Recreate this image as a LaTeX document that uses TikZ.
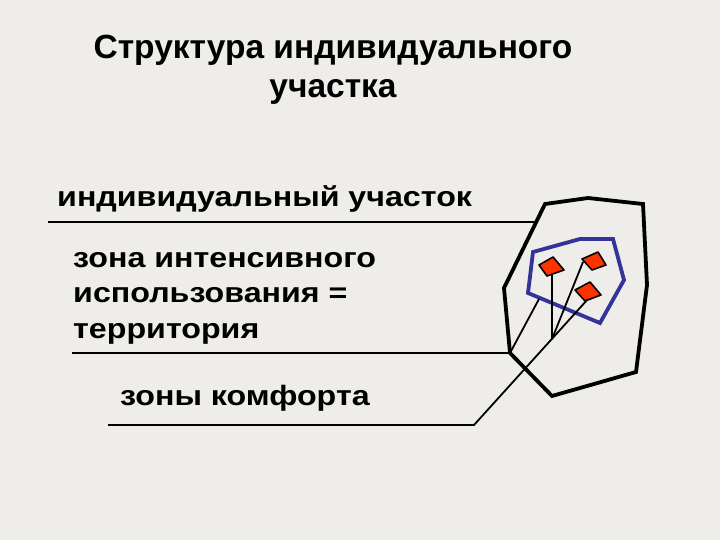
\documentclass[tikz,border=0pt]{standalone}
\usepackage{fontspec}
\setmainfont{Liberation Sans}
\definecolor{bg}{HTML}{EEEDEA}
\definecolor{zoneblue}{HTML}{333399}
\definecolor{comfred}{HTML}{FF3300}
\newcommand{\wide}[1]{\scalebox{1.15}[1]{#1}}
\begin{document}
\begin{tikzpicture}[x=1pt,y=-1pt,
  lbl/.style={anchor=base west,inner sep=0pt,font=\bfseries\fontsize{28}{28}\selectfont},
  ttl/.style={anchor=base,inner sep=0pt,font=\bfseries\fontsize{33.5}{33.5}\selectfont},
  thin/.style={line width=1.8pt,black},
  outer/.style={line width=3.8pt,black,line join=miter},
  inner/.style={line width=3.8pt,zoneblue,line join=miter},
  spot/.style={fill=comfred,draw=black,line width=1.6pt,line join=round}]
\fill[bg] (0,0) rectangle (720,540);
\useasboundingbox (0,0) rectangle (720,540);
% title
\node[ttl] (t1) at (333,59) {Структура индивидуального};
\node[ttl] (t2) at (333,98) {участка};
% labels
\node[lbl] (l1) at (57,207) {\wide{индивидуальный участок}};
\node[lbl] (l2a) at (73,267) {\wide{зона интенсивного}};
\node[lbl] (l2b) at (73,302) {\wide{использования =}};
\node[lbl] (l2c) at (73,338) {\wide{территория}};
\node[lbl] (l3) at (120,405) {\wide{зоны комфорта}};
% outer polygon (individual area)
\coordinate (o1) at (545,204);
\coordinate (o2) at (588,198);
\coordinate (o3) at (643,204);
\coordinate (o4) at (647,285);
\coordinate (o5) at (636,372);
\coordinate (o6) at (552,396);
\coordinate (o7) at (510,353);
\coordinate (o8) at (504,288);
\draw[outer] (o1) -- (o2) -- (o3) -- (o4) -- (o5) -- (o6) -- (o7) -- (o8) -- cycle;
% inner polygon (territory)
\coordinate (b1) at (533,252);
\coordinate (b2) at (580,239);
\coordinate (b3) at (613,239);
\coordinate (b4) at (624,280);
\coordinate (b5) at (600,323);
\coordinate (b6) at (528,293);
\draw[inner] (b1) -- (b2) -- (b3) -- (b4) -- (b5) -- (b6) -- cycle;
% comfort spots
\draw[spot] (539,265) -- (553,257) -- (564,270) -- (547,276) -- cycle;
\draw[spot] (582,259) -- (598,252) -- (606,265) -- (592,270) -- cycle;
\draw[spot] (575,290) -- (590,282) -- (601,295) -- (585,301) -- cycle;
\coordinate (s1) at (552,275);
\coordinate (s2) at (583,262);
\coordinate (s3) at (588,299);
% leader lines
\coordinate (a1) at (48,222);
\coordinate (a1e) at (538,222);
\draw[thin] (a1) -- (a1e);
\coordinate (a2) at (72,353);
\coordinate (a2t) at (539,299);
\draw[thin] (a2) -- (o7) -- (a2t);
\coordinate (a3) at (108,425);
\coordinate (a3k) at (474,425);
\coordinate (j) at (552,339);
\draw[thin] (a3) -- (a3k) -- (s3);
\draw[thin] (j) -- (s1);
\draw[thin] (j) -- (s2);
\end{tikzpicture}
\end{document}
